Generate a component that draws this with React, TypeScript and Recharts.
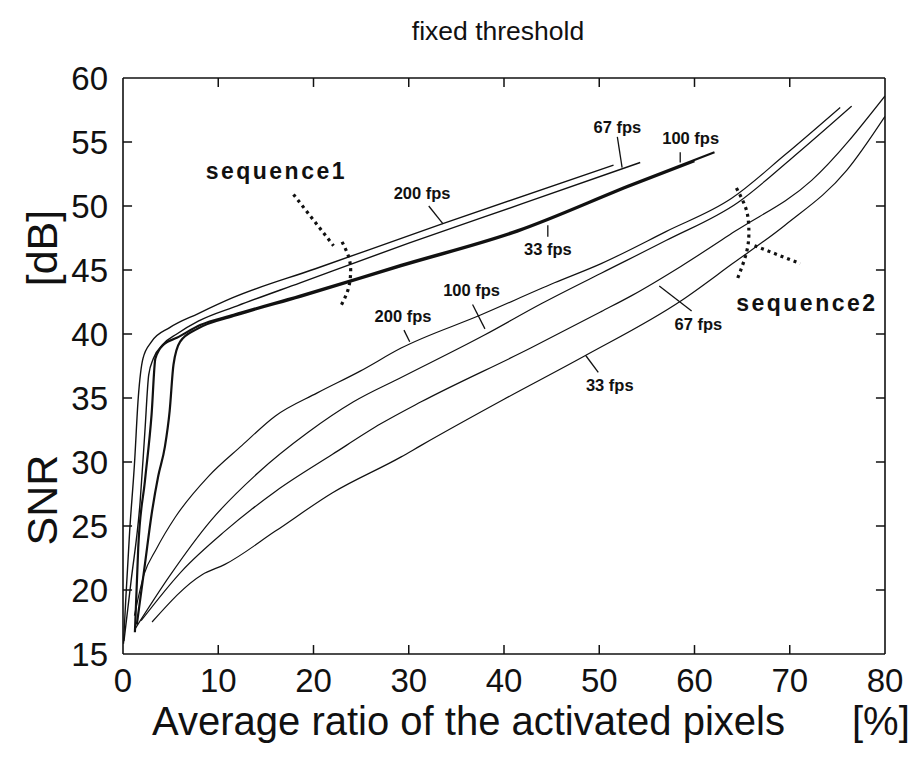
import { LineChart, Line, XAxis, YAxis, ReferenceDot, ReferenceLine } from "recharts";

const xTicks = [0, 10, 20, 30, 40, 50, 60, 70, 80];
const yTicks = [15, 20, 25, 30, 35, 40, 45, 50, 55, 60];

// sequence1 curves
const s1Fps200X = [0.05, 0.3, 0.7, 1.2, 1.6, 2.1, 3.0, 4.9, 7.9, 11.4, 20.2, 33.5, 51.5];
const s1Fps200Y = [15.8, 19.4, 24.6, 29.8, 35.0, 38.1, 39.4, 40.5, 41.6, 42.8, 45.1, 48.6, 53.2];
const s1Fps67X = [0.1, 0.85, 1.8, 2.3, 2.7, 3.2, 4.2, 5.65, 7.9, 12, 18.6, 30, 42, 54.3];
const s1Fps67Y = [16.0, 20.7, 26.9, 32.4, 36.8, 38.1, 39.2, 40.0, 41.0, 42.2, 44.0, 47.1, 50.2, 53.4];
const s1Fps100X = [1.25, 1.6, 2.3, 3.0, 3.4, 4.3, 5.65, 8.1, 11.6, 18.6, 29.2, 41.4, 53.4, 62.1];
const s1Fps100Y = [16.7, 23.3, 28.5, 33.7, 38.1, 39.2, 39.7, 40.7, 41.5, 43.0, 45.4, 48.1, 51.7, 54.2];
const s1Fps33X = [1.45, 2.3, 3.0, 3.7, 4.4, 4.9, 5.3, 6.0, 7.8, 11.6, 18.6, 29.2, 41.4, 53.4, 60];
const s1Fps33Y = [17.3, 22.0, 25.9, 28.9, 31.2, 34.0, 37.6, 39.4, 40.4, 41.4, 42.9, 45.3, 48.0, 51.6, 53.5];

// sequence2 curves
const s2Fps200X = [1.2, 2.2, 3.5, 5.5, 9.0, 12.5, 16, 20.4, 24.9, 29.2, 37.6, 45.3, 50.2, 57, 63.9, 69.5, 75.3];
const s2Fps200Y = [18.0, 21.2, 23.2, 25.7, 28.9, 31.3, 33.6, 35.4, 37.1, 38.9, 41.5, 44.0, 45.5, 48.0, 50.6, 54.0, 57.7];
const s2Fps100X = [1.3, 4.9, 9.2, 14.1, 19.4, 24.2, 29.2, 37.9, 44, 50.2, 57, 64.6, 70, 76.5];
const s2Fps100Y = [17.0, 21.1, 25.4, 29.1, 32.3, 34.7, 36.6, 39.9, 42.4, 44.75, 47.3, 50.3, 53.6, 57.8];
const s2Fps67X = [1.9, 6.2, 10.7, 16, 22, 27.1, 31.3, 42.8, 50.2, 53.4, 58.6, 64.2, 72.3, 80];
const s2Fps67Y = [17.6, 21.5, 24.6, 27.7, 30.6, 33.0, 34.7, 38.9, 41.75, 43.0, 45.3, 48.0, 52.0, 58.6];
const s2Fps33X = [3.05, 8.3, 10.7, 16, 22, 29.2, 31.3, 40, 48.5, 58.6, 64, 69.5, 76, 80];
const s2Fps33Y = [17.5, 21.2, 22.0, 24.6, 27.6, 30.4, 31.3, 34.9, 38.3, 42.6, 45.5, 48.5, 52.8, 57.0];

// dotted "sequence" markers
const seq1LeadX = [17.9, 22.1];
const seq1LeadY = [50.9, 46.9];
const seq1ArcX = [23.0, 23.7, 23.9, 23.6, 22.8];
const seq1ArcY = [47.2, 46.0, 44.8, 43.4, 42.1];
const seq2ArcX = [64.4, 65.4, 65.7, 65.5, 64.4];
const seq2ArcY = [51.4, 49.8, 48.3, 46.5, 44.1];
const seq2LeadX = [66.3, 71.1];
const seq2LeadY = [46.9, 45.5];

// label pointers: [x1, y1, x2, y2]
const pointers = [
  [32.1, 50.0, 33.6, 48.6],
  [51.9, 55.4, 52.4, 53.0],
  [58.5, 54.2, 58.5, 53.4],
  [44.6, 48.5, 44.6, 47.6],
  [29.5, 40.3, 30.1, 39.4],
  [36.7, 42.3, 38.0, 40.4],
  [56.3, 43.75, 59.7, 41.8],
  [48.6, 38.3, 49.9, 37.0],
];

const fpsLabels = ["200 fps", "67 fps", "100 fps", "33 fps", "200 fps", "100 fps", "67 fps", "33 fps"];
const fpsLabelX = [31.4, 51.9, 59.6, 44.6, 29.4, 36.6, 60.4, 51.1];
const fpsLabelY = [51.0, 56.2, 55.3, 46.65, 41.4, 43.4, 40.8, 36.0];

const seqLabels = ["sequence1", "sequence2"];
const seqLabelX = [16.1, 71.8];
const seqLabelY = [52.7, 42.4];

const zip = (xs: number[], ys: number[]) => xs.map((x, i) => ({ x, y: ys[i] }));

const curves = [
  { id: "s1-200", d: zip(s1Fps200X, s1Fps200Y), w: 1.4 },
  { id: "s1-67", d: zip(s1Fps67X, s1Fps67Y), w: 1.4 },
  { id: "s1-100", d: zip(s1Fps100X, s1Fps100Y), w: 2.2 },
  { id: "s1-33", d: zip(s1Fps33X, s1Fps33Y), w: 2.2 },
  { id: "s2-200", d: zip(s2Fps200X, s2Fps200Y), w: 1.2 },
  { id: "s2-100", d: zip(s2Fps100X, s2Fps100Y), w: 1.2 },
  { id: "s2-67", d: zip(s2Fps67X, s2Fps67Y), w: 1.2 },
  { id: "s2-33", d: zip(s2Fps33X, s2Fps33Y), w: 1.2 },
];

const dotted = [
  { id: "q1a", d: zip(seq1LeadX, seq1LeadY) },
  { id: "q1b", d: zip(seq1ArcX, seq1ArcY) },
  { id: "q2a", d: zip(seq2ArcX, seq2ArcY) },
  { id: "q2b", d: zip(seq2LeadX, seq2LeadY) },
];

const FONT = "'Liberation Sans', Arial, Helvetica, sans-serif";
const INK = "#111";

// inward tick marks on all four sides of the frame
const innerX = xTicks.slice(1, -1);
const innerY = yTicks.slice(1, -1);
const tickMarks = [
  ...innerX.map((t) => [{ x: t, y: 15 }, { x: t, y: 15.7 }]),
  ...innerX.map((t) => [{ x: t, y: 60 }, { x: t, y: 59.3 }]),
  ...innerY.map((t) => [{ x: 0, y: t }, { x: 0.95, y: t }]),
  ...innerY.map((t) => [{ x: 80, y: t }, { x: 79.05, y: t }]),
];

const tag = (text: string, size: number, spacing = 0) => (props: any) => {
  const vb = props.viewBox || {};
  return (
    <text
      x={vb.x + (vb.width || 0) / 2}
      y={vb.y + (vb.height || 0) / 2}
      textAnchor="middle"
      dominantBaseline="central"
      fontFamily={FONT}
      fontWeight="bold"
      fontSize={size}
      letterSpacing={spacing}
      fill={INK}
    >
      {text}
    </text>
  );
};

const BottomTick = (p: any) => (
  <text x={p.x} y={p.y + 30} textAnchor="middle" fontFamily={FONT} fontSize={33} fill={INK}>
    {p.payload.value}
  </text>
);
const LeftTick = (p: any) => (
  <text x={p.x - 7} y={p.y} textAnchor="end" dominantBaseline="central" fontFamily={FONT} fontSize={33} fill={INK}>
    {p.payload.value}
  </text>
);

const YTitle = (props: any) => {
  const vb = props.viewBox;
  const cx = vb.x + 42;
  return (
    <g fontFamily={FONT} fontSize={43} fill={INK}>
      <text x={cx} y={vb.y + 422} textAnchor="middle" dominantBaseline="central" transform={`rotate(-90 ${cx} ${vb.y + 422})`}>
        SNR
      </text>
      <text x={cx} y={vb.y + 170} textAnchor="middle" dominantBaseline="central" transform={`rotate(-90 ${cx} ${vb.y + 170})`}>
        [dB]
      </text>
    </g>
  );
};

const XTitle = (props: any) => {
  const vb = props.viewBox;
  return (
    <g fontFamily={FONT} fontSize={40} fill={INK}>
      <text x={vb.x + 29} y={vb.y + 81}>Average ratio of the activated pixels</text>
      <text x={vb.x + 729} y={vb.y + 81}>[%]</text>
    </g>
  );
};

const Title = (props: any) => {
  const vb = props.viewBox;
  return (
    <text x={vb.x + 375} y={vb.y - 37} textAnchor="middle" fontFamily={FONT} fontSize={26.5} fill={INK}>
      fixed threshold
    </text>
  );
};

const frame = { stroke: INK, strokeWidth: 1.6 };

export default function App() {
  return (
    <div style={{ position: "absolute", left: 0, top: 0, background: "#fff" }}>
      <LineChart width={917} height={757} margin={{ top: 77, right: 31, bottom: 43, left: 0 }}>
        <XAxis
          dataKey="x"
          type="number"
          domain={[0, 80]}
          ticks={xTicks}
          allowDataOverflow
          height={60}
          tickSize={6}
          tickMargin={2}
          axisLine={frame}
          tickLine={false}
          tick={<BottomTick />}
          label={<XTitle />}
        />
        <XAxis
          xAxisId="top"
          orientation="top"
          dataKey="x"
          type="number"
          domain={[0, 80]}
          ticks={xTicks}
          height={1}
          axisLine={frame}
          tickLine={false}
          tick={false}
          label={<Title />}
        />
        <YAxis
          type="number"
          domain={[15, 60]}
          ticks={yTicks}
          allowDataOverflow
          width={123}
          tickSize={6}
          tickMargin={2}
          axisLine={frame}
          tickLine={false}
          tick={<LeftTick />}
          label={<YTitle />}
        />
        <YAxis
          yAxisId="right"
          orientation="right"
          type="number"
          domain={[15, 60]}
          ticks={yTicks}
          width={1}
          axisLine={frame}
          tickLine={false}
          tick={false}
        />
        {tickMarks.map((seg, i) => (
          <ReferenceLine key={`tm-${i}`} segment={seg} stroke={INK} strokeWidth={1.5} />
        ))}
        {curves.map((c) => (
          <Line
            key={c.id}
            data={c.d}
            dataKey="y"
            type="monotone"
            stroke={INK}
            strokeWidth={c.w}
            dot={false}
            activeDot={false}
            isAnimationActive={false}
          />
        ))}
        {dotted.map((c) => (
          <Line
            key={c.id}
            data={c.d}
            dataKey="y"
            type="natural"
            stroke={INK}
            strokeWidth={3.2}
            strokeDasharray="3 4"
            dot={false}
            activeDot={false}
            isAnimationActive={false}
          />
        ))}
        {pointers.map((p, i) => (
          <Line
            key={`ptr-${i}`}
            data={[{ x: p[0], y: p[1] }, { x: p[2], y: p[3] }]}
            dataKey="y"
            type="linear"
            stroke={INK}
            strokeWidth={1.3}
            dot={false}
            activeDot={false}
            isAnimationActive={false}
          />
        ))}
        {fpsLabels.map((t, i) => (
          <ReferenceDot
            key={`fl-${i}`}
            x={fpsLabelX[i]}
            y={fpsLabelY[i]}
            r={0}
            fill="none"
            stroke="none"
            label={tag(t, 16.5)}
          />
        ))}
        {seqLabels.map((t, i) => (
          <ReferenceDot
            key={`sl-${i}`}
            x={seqLabelX[i]}
            y={seqLabelY[i]}
            r={0}
            fill="none"
            stroke="none"
            label={tag(t, 23, 2.5)}
          />
        ))}
      </LineChart>
    </div>
  );
}
